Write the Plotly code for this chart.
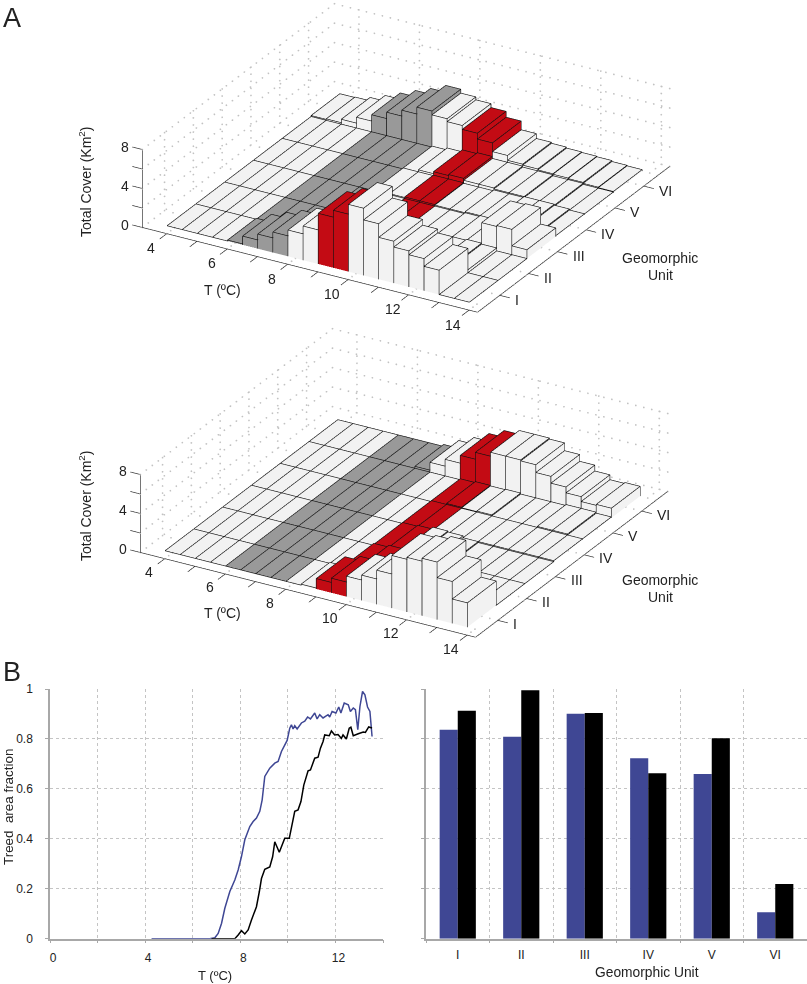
import plotly.graph_objects as go

# panel A: cover per temperature bin (columns) and geomorphic unit (rows I..VI)
t_bins = [4 + 0.5 * i for i in range(20)]
unit_pos = [1, 2, 3, 4, 5, 6]
unit_labels = ["I", "II", "III", "IV", "V", "VI"]
t_tick_labels = ["4", "6", "8", "10", "12", "14"]
z_tick_labels = ["0", "4", "8"]

cover_top_I = [0, 0, 0, 0, 0.1, 0.9, 1.5, 2.1, 2.7, 3.5, 5.2, 5.9, 6.9, 5.7, 4.3, 3.7, 3.3, 2.5, 0, 0]
cover_top_II = [0, 0, 0, 0, 0, 0, 0, 0, 0, 0, 0.1, 0.1, 0.1, 0.2, 0.3, 0.3, 0.4, 0.3, 0, 0]
cover_top_III = [0, 0, 0, 0, 0, 0, 0, 0, 0, 0, 0, 0, 0, 0, 0.1, 0.2, 0.3, 2.5, 2.6, 0.9]
cover_top_IV = [0, 0, 0, 0, 0, 0, 0, 0, 0.1, 0.1, 0.15, 0.15, 0.1, 0.1, 0.2, 0.2, 0.3, 0.3, 0.2, 0.1]
cover_top_V = [0, 0, 0, 0, 0, 0, 0, 0, 0.1, 0.3, 0.5, 0.6, 0.4, 0.4, 0.3, 0.3, 0.2, 0.2, 0.1, 0.1]
cover_top_VI = [0.1, 0.15, 0.5, 1.1, 1.75, 2.4, 3.0, 3.7, 3.3, 3.0, 2.6, 2.0, 1.1, 0.6, 0.5, 0.4, 0.35, 0.3, 0.2, 0.15]

cover_bot_I = [0, 0, 0, 0, 0, 0, 0, 0, 0, 0.1, 1.07, 1.5, 2.1, 2.6, 3.5, 5.4, 5.6, 5.9, 4.3, 2.5]
cover_bot_II = [0, 0, 0, 0, 0, 0, 0, 0, 0, 0, 0.2, 0.4, 0.5, 0.4, 0.3, 0.2, 0.1, 0, 0, 0]
cover_bot_III = [0, 0, 0, 0, 0, 0, 0, 0, 0, 0, 0.1, 0.2, 0.4, 0.3, 0.1, 0, 0, 0, 0, 0]
cover_bot_IV = [0, 0, 0, 0, 0, 0, 0, 0, 0, 0, 0.1, 0.1, 0.1, 0.1, 0.1, 0.1, 0.1, 0.1, 0.1, 0.1]
cover_bot_V = [0, 0, 0, 0, 0, 0, 0, 0, 0, 0, 0.1, 0.2, 0.15, 0.2, 0.1, 0.1, 0.1, 0.2, 0.2, 0.1]
cover_bot_VI = [0, 0, 0, 0, 0, 0, 0, 0.2, 1.0, 1.7, 2.5, 3.2, 3.6, 3.6, 3.5, 2.7, 2.0, 1.4, 0.9, 1.0]

cover_top = [cover_top_I, cover_top_II, cover_top_III, cover_top_IV, cover_top_V, cover_top_VI]
cover_bot = [cover_bot_I, cover_bot_II, cover_bot_III, cover_bot_IV, cover_bot_V, cover_bot_VI]

# panel B left: treed fraction against T
t_blue = [4.27, 6.72, 6.93, 7.07, 7.21, 7.35, 7.56, 7.77, 7.91, 8.05, 8.19, 8.40, 8.54, 8.68, 8.82, 8.92, 9.03, 9.24,
          9.45, 9.59, 9.73, 9.87, 9.97, 10.08, 10.15, 10.22, 10.29, 10.39, 10.57, 10.71, 10.83, 10.95, 11.13, 11.23,
          11.34, 11.48, 11.69, 11.76, 11.86, 12.02, 12.14, 12.23, 12.37, 12.54, 12.63, 12.75, 12.84, 12.94, 13.03,
          13.14, 13.24, 13.35, 13.45, 13.54]
f_blue = [0, 0, .004, .021, .061, .122, .189, .235, .275, .329, .396, .449, .469, .483, .51, .556, .65, .683,
          .703, .71, .75, .777, .794, .843, .857, .84, .853, .84, .864, .871, .888, .88, .904, .88,
          .897, .884, .897, .888, .91, .904, .928, .904, .944, .937, .91, .924, .917, .837, .93,
          .99, .977, .928, .91, .81]
t_black = [6.79, 7.77, 7.91, 8.05, 8.19, 8.33, 8.47, 8.68, 8.80, 8.89, 9.03, 9.24, 9.36, 9.45, 9.64, 9.87, 10.06, 10.15,
           10.29, 10.43, 10.55, 10.67, 10.85, 10.95, 11.13, 11.27, 11.37, 11.48, 11.55, 11.74, 11.83, 11.97, 12.11,
           12.25, 12.32, 12.46, 12.58, 12.65, 12.75, 12.96, 13.17, 13.26, 13.40, 13.54]
f_black = [0, 0, .015, .032, .019, .035, .075, .128, .188, .241, .278, .287, .328, .388, .346, .402, .402, .449,
           .51, .516, .549, .615, .672, .676, .723, .727, .763, .79, .816, .813, .832, .816, .818,
           .802, .816, .8, .843, .847, .813, .821, .828, .826, .848, .844]

# panel B right: treed fraction per unit
frac_blue = [.837, .809, .901, .723, .66, .106]
frac_black = [.913, .995, .904, .663, .803, .219]

GRAY_BINS = [6, 6.5, 7, 7.5]
RED_BINS = [9, 9.5]
WHITE, GRAY, RED = "#f2f2f2", "#999999", "#c30b14"
BLUE = "#3f4794"
FONT = "Liberation Sans"
W, H = 807, 984
# box drawn as the axes, the scene range is a bit wider so the ticks fit
X_BOX = [3.19, 14.28]
Y_BOX = [0.227, 6.9]
PAD = 0.4
ZOOM = 2.45
EYE = dict(x=0.4494, y=-0.7784, z=0.438)
ASPECT = dict(x=ZOOM * (X_BOX[1] - X_BOX[0] + 2 * PAD) / (X_BOX[1] - X_BOX[0]),
              y=0.993 * ZOOM * (Y_BOX[1] - Y_BOX[0] + 2 * PAD) / (Y_BOX[1] - Y_BOX[0]),
              z=0.224 * ZOOM)
# edges are pushed a hair toward the camera so they do not sink into the faces
LIFT = (0.012, -0.013, 0.04)


def bars(grid):
    vx, vy, vz, i, j, k, cols = [], [], [], [], [], [], []
    ex, ey, ez = [], [], []
    for row, yc in zip(grid, unit_pos):
        for t, h in zip(t_bins, row):
            x0, x1, y0, y1 = t - 0.25, t + 0.25, yc - 0.5, yc + 0.5
            n = len(vx)
            vx += [x0, x1, x1, x0, x0, x1, x1, x0]
            vy += [y0, y0, y1, y1, y0, y0, y1, y1]
            vz += [0, 0, 0, 0, h, h, h, h]
            quads = [(4, 5, 6, 7), (0, 1, 5, 4), (1, 2, 6, 5), (2, 3, 7, 6), (3, 0, 4, 7)]
            c = GRAY if t in GRAY_BINS else RED if t in RED_BINS else WHITE
            for a, b, d, e in quads:
                i += [n + a, n + a]
                j += [n + b, n + d]
                k += [n + d, n + e]
                cols += [c, c]
            ex += [x0, x1, x1, x0, x0, None]
            ey += [y0, y0, y1, y1, y0, None]
            ez += [h, h, h, h, h, None]
            if h > 0:
                for px, py in [(x0, y0), (x1, y0), (x1, y1)]:
                    ex += [px, px, None]
                    ey += [py, py, None]
                    ez += [0, h, None]
    ex = [None if v is None else v + LIFT[0] for v in ex]
    ey = [None if v is None else v + LIFT[1] for v in ey]
    ez = [None if v is None else v + LIFT[2] for v in ez]
    mesh = dict(x=vx, y=vy, z=vz, i=i, j=j, k=k, facecolor=cols, flatshading=True,
                lighting=dict(ambient=1, diffuse=0, specular=0, fresnel=0), hoverinfo="skip")
    edges = dict(x=ex, y=ey, z=ez, mode="lines", line=dict(color="#111111", width=1.3), hoverinfo="skip")
    return mesh, edges


def dots_along(p, q, n, gx, gy, gz):
    for s in range(n + 1):
        gx.append(p[0] + (q[0] - p[0]) * s / n)
        gy.append(p[1] + (q[1] - p[1]) * s / n)
        gz.append(p[2] + (q[2] - p[2]) * s / n)


def wall_grid():
    gx, gy, gz = [], [], []
    x0, x1, y0, y1 = X_BOX[0], X_BOX[1], Y_BOX[0], Y_BOX[1]
    for t in [4, 6, 8, 10, 12, 14]:
        dots_along((t, y0, 0), (t, 0.5, 0), 2, gx, gy, gz)
        dots_along((t, 6.5, 0), (t, y1, 0), 2, gx, gy, gz)
        dots_along((t, y1, 0), (t, y1, 8), 11, gx, gy, gz)
    for u in unit_pos:
        dots_along((x0, u, 0), (3.75, u, 0), 2, gx, gy, gz)
        dots_along((13.75, u, 0), (x1, u, 0), 2, gx, gy, gz)
        dots_along((x0, u, 0), (x0, u, 8), 11, gx, gy, gz)
    for z in [2, 4, 6, 8]:
        dots_along((x0, y0, z), (x0, y1, z), 32, gx, gy, gz)
        dots_along((x0, y1, z), (x1, y1, z), 42, gx, gy, gz)
    dots_along((x0, y1, 0), (x1, y1, 0), 42, gx, gy, gz)
    dots_along((x1, y0, 0), (x1, y1, 0), 32, gx, gy, gz)
    dots_along((x0, y0, 0), (x0, y1, 0), 32, gx, gy, gz)
    return dict(x=gx, y=gy, z=gz, mode="markers", hoverinfo="skip",
                marker=dict(color="#c2c2c2", size=1, line_width=0))


def axis_lines():
    x0, x1, y0, y1 = X_BOX[0], X_BOX[1], Y_BOX[0], Y_BOX[1]
    ax = [x1, x0, x0, None, x1, x1, None]
    ay = [y0, y0, y0, None, y0, y1, None]
    az = [0, 0, 8, None, 0, 0, None]
    for t in range(4, 15):
        ax += [t, t, None]
        ay += [y0, y0 - 0.25, None]
        az += [0, 0, None]
    for u in unit_pos:
        ax += [x1, x1 + 0.33, None]
        ay += [u, u, None]
        az += [0, 0, None]
    for z in [0, 2, 4, 6, 8]:
        ax += [x0, x0 - 0.33, None]
        ay += [y0, y0, None]
        az += [z, z, None]
    return dict(x=ax, y=ay, z=az, mode="lines", hoverinfo="skip", line=dict(color="#222222", width=1.3))


def scene_layout(top, cx, half_w=290, half_h=158):
    tick_font = dict(family=FONT, size=14, color="#222222")
    notes = []
    for t, s in zip([4, 6, 8, 10, 12, 14], t_tick_labels):
        notes.append(dict(x=t, y=Y_BOX[0], z=0, text=s, showarrow=False, xshift=-16, yshift=-14, font=tick_font))
    for u, s in zip(unit_pos, unit_labels):
        notes.append(dict(x=X_BOX[1], y=u, z=0, text=s, showarrow=False, xanchor="left", xshift=13, yshift=-4,
                          font=tick_font))
    for z, s in zip([0, 4, 8], z_tick_labels):
        notes.append(dict(x=X_BOX[0], y=Y_BOX[0], z=z, text=s, showarrow=False, xshift=-18, yshift=3,
                          font=tick_font))
    return dict(
        domain=dict(x=[(cx - half_w) / W, (cx + half_w) / W], y=[1 - (top + 2 * half_h) / H, 1 - top / H]),
        xaxis=dict(visible=False, range=[X_BOX[0] - PAD, X_BOX[1] + PAD]),
        yaxis=dict(visible=False, range=[Y_BOX[0] - PAD, Y_BOX[1] + PAD]),
        zaxis=dict(visible=False, range=[0, 8]),
        aspectmode="manual", aspectratio=ASPECT,
        camera=dict(projection=dict(type="orthographic"), up=dict(x=0, y=0, z=1),
                    eye=dict(x=EYE["x"] * 2.5, y=EYE["y"] * 2.5, z=EYE["z"] * 2.5)),
        bgcolor="rgba(0,0,0,0)", annotations=notes,
    )


fig = go.Figure()
for grid, name in [(cover_top, "scene"), (cover_bot, "scene2")]:
    mesh, edges = bars(grid)
    fig.add_trace(go.Mesh3d(scene=name, **mesh))
    fig.add_trace(go.Scatter3d(scene=name, **edges))
    fig.add_trace(go.Scatter3d(scene=name, **wall_grid()))
    fig.add_trace(go.Scatter3d(scene=name, **axis_lines()))

# panel B
fig.add_trace(go.Scatter(x=t_blue, y=f_blue, mode="lines", line=dict(color=BLUE, width=1.5), hoverinfo="skip"))
fig.add_trace(go.Scatter(x=t_black, y=f_black, mode="lines", line=dict(color="black", width=1.5), hoverinfo="skip"))
fig.add_trace(go.Bar(x=unit_labels, y=frac_blue, marker=dict(color=BLUE, line_width=0), xaxis="x2", yaxis="y2"))
fig.add_trace(go.Bar(x=unit_labels, y=frac_black, marker=dict(color="black", line_width=0), xaxis="x2", yaxis="y2"))

grid_style = dict(showgrid=True, gridcolor="#c4c4c4", griddash="3px,3px", gridwidth=1, zeroline=False,
                  showline=True, linecolor="#a8a8a8", linewidth=1.5, ticks="outside", tickcolor="#a8a8a8",
                  ticklen=3, tickfont=dict(family=FONT, size=12, color="#222222"), automargin=False)
y_dom = [1 - 938.7 / H, 1 - 689 / H]


def text(x, y, s, size=14, angle=0):
    return dict(x=x / W, y=1 - y / H, xref="paper", yref="paper", text=s, showarrow=False, textangle=angle,
                xanchor="center", yanchor="middle", font=dict(family=FONT, size=size, color="#222222"))


fig.update_layout(
    width=W, height=H, margin=dict(l=0, r=0, t=0, b=0), paper_bgcolor="white", plot_bgcolor="white",
    showlegend=False, barmode="group", bargap=0.43, bargroupgap=0,
    scene=scene_layout(0.5, 406.3), scene2=scene_layout(324.5, 404.3),
    xaxis=dict(grid_style, domain=[50 / W, 383 / W], range=[0, 14], tickvals=list(range(0, 15, 2)),
               ticktext=["0", "", "4", "", "8", "", "12", ""], anchor="y", ticklabelstandoff=4, ticklabelshift=3),
    yaxis=dict(grid_style, domain=y_dom, range=[0, 1], tickvals=[0, 0.2, 0.4, 0.6, 0.8, 1],
               ticktext=["0", "0.2", "0.4", "0.6", "0.8", "1"], anchor="x", ticklabelstandoff=10),
    xaxis2=dict(grid_style, domain=[426 / W, 1], tickson="boundaries", anchor="y2", ticklabelstandoff=4),
    yaxis2=dict(grid_style, domain=y_dom, range=[0, 1], tickvals=[0, 0.2, 0.4, 0.6, 0.8, 1], showticklabels=False,
                anchor="x2"),
    annotations=[
        text(12, 18, "A", 27), text(12, 672, "B", 27),
        text(85, 182, "Total Cover (Km<sup>2</sup>)", 14, -90),
        text(85, 506, "Total Cover (Km<sup>2</sup>)", 14, -90),
        text(222, 290, "T (ºC)"), text(222, 613, "T (ºC)"),
        text(660, 258, "Geomorphic"), text(660, 275, "Unit"),
        text(660, 580, "Geomorphic"), text(660, 597, "Unit"),
        text(8, 807, "Treed  area fraction", 13.4, -90),
        text(215, 975, "T (ºC)", 13), text(647, 972, "Geomorphic Unit", 13.8),
    ],
)

fig.write_html("out.html", post_script="document.body.style.margin='0'", config=dict(displayModeBar=False))
